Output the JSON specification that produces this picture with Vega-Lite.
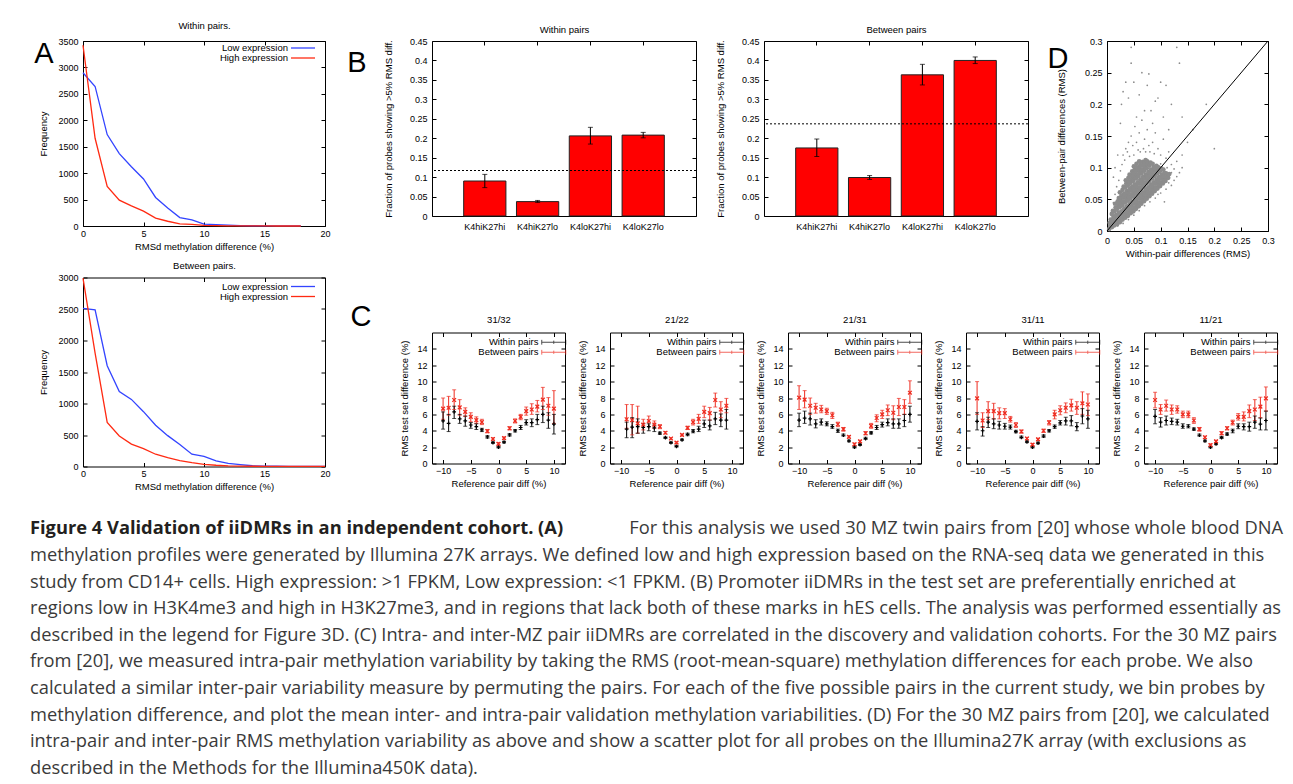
{
  "$schema": "https://vega.github.io/schema/vega-lite/v6.json",
  "padding": {"left": 30, "top": 19, "right": 5, "bottom": 0},
  "datasets": {
    "freq": [
      {"panel": "Within pairs.", "expression": "Low expression", "rmsd": 0, "count": 2900},
      {"panel": "Within pairs.", "expression": "Low expression", "rmsd": 1, "count": 2640},
      {"panel": "Within pairs.", "expression": "Low expression", "rmsd": 2, "count": 1730},
      {"panel": "Within pairs.", "expression": "Low expression", "rmsd": 3, "count": 1370},
      {"panel": "Within pairs.", "expression": "Low expression", "rmsd": 4, "count": 1120},
      {"panel": "Within pairs.", "expression": "Low expression", "rmsd": 5, "count": 890},
      {"panel": "Within pairs.", "expression": "Low expression", "rmsd": 6, "count": 540},
      {"panel": "Within pairs.", "expression": "Low expression", "rmsd": 7, "count": 340},
      {"panel": "Within pairs.", "expression": "Low expression", "rmsd": 8, "count": 160},
      {"panel": "Within pairs.", "expression": "Low expression", "rmsd": 9, "count": 115},
      {"panel": "Within pairs.", "expression": "Low expression", "rmsd": 10, "count": 35},
      {"panel": "Within pairs.", "expression": "Low expression", "rmsd": 11, "count": 25},
      {"panel": "Within pairs.", "expression": "Low expression", "rmsd": 12, "count": 15},
      {"panel": "Within pairs.", "expression": "Low expression", "rmsd": 13, "count": 8},
      {"panel": "Within pairs.", "expression": "Low expression", "rmsd": 14, "count": 5},
      {"panel": "Within pairs.", "expression": "Low expression", "rmsd": 15, "count": 3},
      {"panel": "Within pairs.", "expression": "Low expression", "rmsd": 16, "count": 2},
      {"panel": "Within pairs.", "expression": "Low expression", "rmsd": 17, "count": 1},
      {"panel": "Within pairs.", "expression": "Low expression", "rmsd": 18, "count": 1},
      {"panel": "Within pairs.", "expression": "High expression", "rmsd": 0, "count": 3420},
      {"panel": "Within pairs.", "expression": "High expression", "rmsd": 1, "count": 1660},
      {"panel": "Within pairs.", "expression": "High expression", "rmsd": 2, "count": 750},
      {"panel": "Within pairs.", "expression": "High expression", "rmsd": 3, "count": 490},
      {"panel": "Within pairs.", "expression": "High expression", "rmsd": 4, "count": 380},
      {"panel": "Within pairs.", "expression": "High expression", "rmsd": 5, "count": 280},
      {"panel": "Within pairs.", "expression": "High expression", "rmsd": 6, "count": 150},
      {"panel": "Within pairs.", "expression": "High expression", "rmsd": 7, "count": 90},
      {"panel": "Within pairs.", "expression": "High expression", "rmsd": 8, "count": 40},
      {"panel": "Within pairs.", "expression": "High expression", "rmsd": 9, "count": 30},
      {"panel": "Within pairs.", "expression": "High expression", "rmsd": 10, "count": 12},
      {"panel": "Within pairs.", "expression": "High expression", "rmsd": 11, "count": 6},
      {"panel": "Within pairs.", "expression": "High expression", "rmsd": 12, "count": 4},
      {"panel": "Within pairs.", "expression": "High expression", "rmsd": 13, "count": 2},
      {"panel": "Within pairs.", "expression": "High expression", "rmsd": 14, "count": 1},
      {"panel": "Within pairs.", "expression": "High expression", "rmsd": 15, "count": 1},
      {"panel": "Within pairs.", "expression": "High expression", "rmsd": 16, "count": 0},
      {"panel": "Within pairs.", "expression": "High expression", "rmsd": 17, "count": 0},
      {"panel": "Within pairs.", "expression": "High expression", "rmsd": 18, "count": 0},
      {"panel": "Between pairs.", "expression": "Low expression", "rmsd": 0, "count": 2510},
      {"panel": "Between pairs.", "expression": "Low expression", "rmsd": 1, "count": 2485},
      {"panel": "Between pairs.", "expression": "Low expression", "rmsd": 2, "count": 1600},
      {"panel": "Between pairs.", "expression": "Low expression", "rmsd": 3, "count": 1190},
      {"panel": "Between pairs.", "expression": "Low expression", "rmsd": 4, "count": 1065},
      {"panel": "Between pairs.", "expression": "Low expression", "rmsd": 5, "count": 870},
      {"panel": "Between pairs.", "expression": "Low expression", "rmsd": 6, "count": 655},
      {"panel": "Between pairs.", "expression": "Low expression", "rmsd": 7, "count": 490},
      {"panel": "Between pairs.", "expression": "Low expression", "rmsd": 8, "count": 350},
      {"panel": "Between pairs.", "expression": "Low expression", "rmsd": 9, "count": 195},
      {"panel": "Between pairs.", "expression": "Low expression", "rmsd": 10, "count": 160},
      {"panel": "Between pairs.", "expression": "Low expression", "rmsd": 11, "count": 90},
      {"panel": "Between pairs.", "expression": "Low expression", "rmsd": 12, "count": 50},
      {"panel": "Between pairs.", "expression": "Low expression", "rmsd": 13, "count": 30},
      {"panel": "Between pairs.", "expression": "Low expression", "rmsd": 14, "count": 12},
      {"panel": "Between pairs.", "expression": "Low expression", "rmsd": 15, "count": 6},
      {"panel": "Between pairs.", "expression": "Low expression", "rmsd": 16, "count": 4},
      {"panel": "Between pairs.", "expression": "Low expression", "rmsd": 17, "count": 3},
      {"panel": "Between pairs.", "expression": "Low expression", "rmsd": 18, "count": 2},
      {"panel": "Between pairs.", "expression": "Low expression", "rmsd": 19, "count": 1},
      {"panel": "Between pairs.", "expression": "Low expression", "rmsd": 20, "count": 1},
      {"panel": "Between pairs.", "expression": "High expression", "rmsd": 0, "count": 2990},
      {"panel": "Between pairs.", "expression": "High expression", "rmsd": 1, "count": 1800},
      {"panel": "Between pairs.", "expression": "High expression", "rmsd": 2, "count": 700},
      {"panel": "Between pairs.", "expression": "High expression", "rmsd": 3, "count": 485},
      {"panel": "Between pairs.", "expression": "High expression", "rmsd": 4, "count": 355},
      {"panel": "Between pairs.", "expression": "High expression", "rmsd": 5, "count": 285},
      {"panel": "Between pairs.", "expression": "High expression", "rmsd": 6, "count": 195},
      {"panel": "Between pairs.", "expression": "High expression", "rmsd": 7, "count": 140},
      {"panel": "Between pairs.", "expression": "High expression", "rmsd": 8, "count": 95},
      {"panel": "Between pairs.", "expression": "High expression", "rmsd": 9, "count": 60},
      {"panel": "Between pairs.", "expression": "High expression", "rmsd": 10, "count": 35},
      {"panel": "Between pairs.", "expression": "High expression", "rmsd": 11, "count": 20},
      {"panel": "Between pairs.", "expression": "High expression", "rmsd": 12, "count": 10},
      {"panel": "Between pairs.", "expression": "High expression", "rmsd": 13, "count": 6},
      {"panel": "Between pairs.", "expression": "High expression", "rmsd": 14, "count": 4},
      {"panel": "Between pairs.", "expression": "High expression", "rmsd": 15, "count": 3},
      {"panel": "Between pairs.", "expression": "High expression", "rmsd": 16, "count": 2},
      {"panel": "Between pairs.", "expression": "High expression", "rmsd": 17, "count": 1},
      {"panel": "Between pairs.", "expression": "High expression", "rmsd": 18, "count": 1},
      {"panel": "Between pairs.", "expression": "High expression", "rmsd": 19, "count": 1},
      {"panel": "Between pairs.", "expression": "High expression", "rmsd": 20, "count": 1}
    ],
    "bars": [
      {"panel": "Within pairs", "group": "K4hiK27hi", "frac": 0.090, "lo": 0.073, "hi": 0.107},
      {"panel": "Within pairs", "group": "K4hiK27lo", "frac": 0.037, "lo": 0.035, "hi": 0.040},
      {"panel": "Within pairs", "group": "K4loK27hi", "frac": 0.206, "lo": 0.185, "hi": 0.228},
      {"panel": "Within pairs", "group": "K4loK27lo", "frac": 0.208, "lo": 0.201, "hi": 0.215},
      {"panel": "Between pairs", "group": "K4hiK27hi", "frac": 0.175, "lo": 0.153, "hi": 0.198},
      {"panel": "Between pairs", "group": "K4hiK27lo", "frac": 0.099, "lo": 0.094, "hi": 0.104},
      {"panel": "Between pairs", "group": "K4loK27hi", "frac": 0.363, "lo": 0.337, "hi": 0.390},
      {"panel": "Between pairs", "group": "K4loK27lo", "frac": 0.400, "lo": 0.392, "hi": 0.409}
    ],
    "overall": [
      {"panel": "Within pairs", "frac": 0.117},
      {"panel": "Between pairs", "frac": 0.237}
    ],
    "rms": [
      {"pair": "31/32", "series": "Between pairs", "diff": -10, "mean": 6.7, "lo": 5.4, "hi": 8.0},
      {"pair": "31/32", "series": "Between pairs", "diff": -9, "mean": 6.8, "lo": 5.9, "hi": 8.2},
      {"pair": "31/32", "series": "Between pairs", "diff": -8, "mean": 7.75, "lo": 6.6, "hi": 9.0},
      {"pair": "31/32", "series": "Between pairs", "diff": -7, "mean": 6.85, "lo": 5.9, "hi": 7.8},
      {"pair": "31/32", "series": "Between pairs", "diff": -6, "mean": 6.3, "lo": 5.75, "hi": 6.8},
      {"pair": "31/32", "series": "Between pairs", "diff": -5, "mean": 5.7, "lo": 5.1, "hi": 6.2},
      {"pair": "31/32", "series": "Between pairs", "diff": -4, "mean": 5.3, "lo": 4.9, "hi": 5.7},
      {"pair": "31/32", "series": "Between pairs", "diff": -3, "mean": 5.05, "lo": 4.75, "hi": 5.4},
      {"pair": "31/32", "series": "Between pairs", "diff": -2, "mean": 3.95, "lo": 3.75, "hi": 4.15},
      {"pair": "31/32", "series": "Between pairs", "diff": -1, "mean": 3.0, "lo": 2.85, "hi": 3.15},
      {"pair": "31/32", "series": "Between pairs", "diff": 0, "mean": 2.4, "lo": 2.25, "hi": 2.55},
      {"pair": "31/32", "series": "Between pairs", "diff": 1, "mean": 3.1, "lo": 2.95, "hi": 3.25},
      {"pair": "31/32", "series": "Between pairs", "diff": 2, "mean": 4.3, "lo": 4.1, "hi": 4.5},
      {"pair": "31/32", "series": "Between pairs", "diff": 3, "mean": 5.2, "lo": 4.95, "hi": 5.45},
      {"pair": "31/32", "series": "Between pairs", "diff": 4, "mean": 5.7, "lo": 5.35, "hi": 6.0},
      {"pair": "31/32", "series": "Between pairs", "diff": 5, "mean": 6.4, "lo": 5.9, "hi": 6.9},
      {"pair": "31/32", "series": "Between pairs", "diff": 6, "mean": 6.6, "lo": 6.0, "hi": 7.3},
      {"pair": "31/32", "series": "Between pairs", "diff": 7, "mean": 6.95, "lo": 6.3, "hi": 7.7},
      {"pair": "31/32", "series": "Between pairs", "diff": 8, "mean": 7.8, "lo": 6.6, "hi": 9.3},
      {"pair": "31/32", "series": "Between pairs", "diff": 9, "mean": 7.05, "lo": 5.9, "hi": 8.05},
      {"pair": "31/32", "series": "Between pairs", "diff": 10, "mean": 6.7, "lo": 4.9, "hi": 8.9},
      {"pair": "31/32", "series": "Within pairs", "diff": -10, "mean": 5.2, "lo": 4.2, "hi": 6.3},
      {"pair": "31/32", "series": "Within pairs", "diff": -9, "mean": 4.9, "lo": 3.9, "hi": 6.0},
      {"pair": "31/32", "series": "Within pairs", "diff": -8, "mean": 6.3, "lo": 5.5, "hi": 7.0},
      {"pair": "31/32", "series": "Within pairs", "diff": -7, "mean": 5.45, "lo": 4.9, "hi": 6.0},
      {"pair": "31/32", "series": "Within pairs", "diff": -6, "mean": 5.2, "lo": 4.55, "hi": 5.8},
      {"pair": "31/32", "series": "Within pairs", "diff": -5, "mean": 4.7, "lo": 4.3, "hi": 5.0},
      {"pair": "31/32", "series": "Within pairs", "diff": -4, "mean": 4.5, "lo": 4.15, "hi": 4.85},
      {"pair": "31/32", "series": "Within pairs", "diff": -3, "mean": 4.1, "lo": 3.9, "hi": 4.3},
      {"pair": "31/32", "series": "Within pairs", "diff": -2, "mean": 3.25, "lo": 3.1, "hi": 3.4},
      {"pair": "31/32", "series": "Within pairs", "diff": -1, "mean": 2.55, "lo": 2.45, "hi": 2.65},
      {"pair": "31/32", "series": "Within pairs", "diff": 0, "mean": 2.0, "lo": 1.9, "hi": 2.1},
      {"pair": "31/32", "series": "Within pairs", "diff": 1, "mean": 2.6, "lo": 2.5, "hi": 2.7},
      {"pair": "31/32", "series": "Within pairs", "diff": 2, "mean": 3.5, "lo": 3.35, "hi": 3.65},
      {"pair": "31/32", "series": "Within pairs", "diff": 3, "mean": 4.0, "lo": 3.85, "hi": 4.15},
      {"pair": "31/32", "series": "Within pairs", "diff": 4, "mean": 4.4, "lo": 4.15, "hi": 4.65},
      {"pair": "31/32", "series": "Within pairs", "diff": 5, "mean": 5.0, "lo": 4.7, "hi": 5.35},
      {"pair": "31/32", "series": "Within pairs", "diff": 6, "mean": 5.0, "lo": 4.5, "hi": 5.45},
      {"pair": "31/32", "series": "Within pairs", "diff": 7, "mean": 5.35, "lo": 4.75, "hi": 6.0},
      {"pair": "31/32", "series": "Within pairs", "diff": 8, "mean": 6.0, "lo": 5.0, "hi": 7.0},
      {"pair": "31/32", "series": "Within pairs", "diff": 9, "mean": 5.3, "lo": 4.3, "hi": 6.2},
      {"pair": "31/32", "series": "Within pairs", "diff": 10, "mean": 4.8, "lo": 3.6, "hi": 6.0},
      {"pair": "21/22", "series": "Between pairs", "diff": -9, "mean": 5.4, "lo": 4.3, "hi": 7.2},
      {"pair": "21/22", "series": "Between pairs", "diff": -8, "mean": 5.3, "lo": 3.5, "hi": 7.2},
      {"pair": "21/22", "series": "Between pairs", "diff": -7, "mean": 4.9, "lo": 3.7, "hi": 7.0},
      {"pair": "21/22", "series": "Between pairs", "diff": -6, "mean": 4.75, "lo": 4.1, "hi": 5.4},
      {"pair": "21/22", "series": "Between pairs", "diff": -5, "mean": 5.2, "lo": 4.5, "hi": 5.8},
      {"pair": "21/22", "series": "Between pairs", "diff": -4, "mean": 4.75, "lo": 4.3, "hi": 5.2},
      {"pair": "21/22", "series": "Between pairs", "diff": -3, "mean": 4.5, "lo": 4.25, "hi": 4.75},
      {"pair": "21/22", "series": "Between pairs", "diff": -2, "mean": 3.75, "lo": 3.6, "hi": 3.9},
      {"pair": "21/22", "series": "Between pairs", "diff": -1, "mean": 3.05, "lo": 2.95, "hi": 3.15},
      {"pair": "21/22", "series": "Between pairs", "diff": 0, "mean": 2.55, "lo": 2.45, "hi": 2.65},
      {"pair": "21/22", "series": "Between pairs", "diff": 1, "mean": 3.5, "lo": 3.35, "hi": 3.6},
      {"pair": "21/22", "series": "Between pairs", "diff": 2, "mean": 4.35, "lo": 4.15, "hi": 4.55},
      {"pair": "21/22", "series": "Between pairs", "diff": 3, "mean": 5.05, "lo": 4.7, "hi": 5.4},
      {"pair": "21/22", "series": "Between pairs", "diff": 4, "mean": 5.45, "lo": 4.9, "hi": 6.0},
      {"pair": "21/22", "series": "Between pairs", "diff": 5, "mean": 6.3, "lo": 5.6, "hi": 7.0},
      {"pair": "21/22", "series": "Between pairs", "diff": 6, "mean": 6.15, "lo": 5.3, "hi": 6.85},
      {"pair": "21/22", "series": "Between pairs", "diff": 7, "mean": 7.75, "lo": 6.9, "hi": 8.6},
      {"pair": "21/22", "series": "Between pairs", "diff": 8, "mean": 6.6, "lo": 5.6, "hi": 7.55},
      {"pair": "21/22", "series": "Between pairs", "diff": 9, "mean": 7.05, "lo": 6.2, "hi": 7.95},
      {"pair": "21/22", "series": "Within pairs", "diff": -9, "mean": 4.2, "lo": 3.15, "hi": 5.05},
      {"pair": "21/22", "series": "Within pairs", "diff": -8, "mean": 4.45, "lo": 3.15, "hi": 5.6},
      {"pair": "21/22", "series": "Within pairs", "diff": -7, "mean": 4.5, "lo": 3.7, "hi": 5.45},
      {"pair": "21/22", "series": "Within pairs", "diff": -6, "mean": 4.4, "lo": 3.7, "hi": 4.85},
      {"pair": "21/22", "series": "Within pairs", "diff": -5, "mean": 4.5, "lo": 4.0, "hi": 4.85},
      {"pair": "21/22", "series": "Within pairs", "diff": -4, "mean": 4.35, "lo": 3.9, "hi": 4.7},
      {"pair": "21/22", "series": "Within pairs", "diff": -3, "mean": 3.7, "lo": 3.55, "hi": 3.85},
      {"pair": "21/22", "series": "Within pairs", "diff": -2, "mean": 3.15, "lo": 3.05, "hi": 3.25},
      {"pair": "21/22", "series": "Within pairs", "diff": -1, "mean": 2.55, "lo": 2.45, "hi": 2.65},
      {"pair": "21/22", "series": "Within pairs", "diff": 0, "mean": 2.1, "lo": 2.0, "hi": 2.2},
      {"pair": "21/22", "series": "Within pairs", "diff": 1, "mean": 2.9, "lo": 2.8, "hi": 3.0},
      {"pair": "21/22", "series": "Within pairs", "diff": 2, "mean": 3.55, "lo": 3.4, "hi": 3.7},
      {"pair": "21/22", "series": "Within pairs", "diff": 3, "mean": 3.95, "lo": 3.75, "hi": 4.15},
      {"pair": "21/22", "series": "Within pairs", "diff": 4, "mean": 4.2, "lo": 3.9, "hi": 4.55},
      {"pair": "21/22", "series": "Within pairs", "diff": 5, "mean": 4.85, "lo": 4.4, "hi": 5.3},
      {"pair": "21/22", "series": "Within pairs", "diff": 6, "mean": 4.6, "lo": 4.1, "hi": 5.3},
      {"pair": "21/22", "series": "Within pairs", "diff": 7, "mean": 5.45, "lo": 4.75, "hi": 6.25},
      {"pair": "21/22", "series": "Within pairs", "diff": 8, "mean": 5.3, "lo": 4.5, "hi": 6.05},
      {"pair": "21/22", "series": "Within pairs", "diff": 9, "mean": 5.3, "lo": 4.2, "hi": 6.6},
      {"pair": "21/31", "series": "Between pairs", "diff": -10, "mean": 8.05, "lo": 6.6, "hi": 9.5},
      {"pair": "21/31", "series": "Between pairs", "diff": -9, "mean": 7.8, "lo": 6.8, "hi": 8.9},
      {"pair": "21/31", "series": "Between pairs", "diff": -8, "mean": 7.05, "lo": 6.0, "hi": 8.0},
      {"pair": "21/31", "series": "Between pairs", "diff": -7, "mean": 6.8, "lo": 6.15, "hi": 7.35},
      {"pair": "21/31", "series": "Between pairs", "diff": -6, "mean": 6.6, "lo": 6.2, "hi": 7.1},
      {"pair": "21/31", "series": "Between pairs", "diff": -5, "mean": 6.4, "lo": 6.0, "hi": 6.75},
      {"pair": "21/31", "series": "Between pairs", "diff": -4, "mean": 5.9, "lo": 5.5, "hi": 6.25},
      {"pair": "21/31", "series": "Between pairs", "diff": -3, "mean": 4.8, "lo": 4.5, "hi": 5.05},
      {"pair": "21/31", "series": "Between pairs", "diff": -2, "mean": 4.2, "lo": 3.95, "hi": 4.4},
      {"pair": "21/31", "series": "Between pairs", "diff": -1, "mean": 3.25, "lo": 3.1, "hi": 3.4},
      {"pair": "21/31", "series": "Between pairs", "diff": 0, "mean": 2.35, "lo": 2.2, "hi": 2.5},
      {"pair": "21/31", "series": "Between pairs", "diff": 1, "mean": 2.7, "lo": 2.55, "hi": 2.85},
      {"pair": "21/31", "series": "Between pairs", "diff": 2, "mean": 3.7, "lo": 3.5, "hi": 3.9},
      {"pair": "21/31", "series": "Between pairs", "diff": 3, "mean": 4.6, "lo": 4.3, "hi": 4.9},
      {"pair": "21/31", "series": "Between pairs", "diff": 4, "mean": 5.55, "lo": 5.1, "hi": 5.95},
      {"pair": "21/31", "series": "Between pairs", "diff": 5, "mean": 6.0, "lo": 5.5, "hi": 6.5},
      {"pair": "21/31", "series": "Between pairs", "diff": 6, "mean": 6.5, "lo": 5.85, "hi": 7.15},
      {"pair": "21/31", "series": "Between pairs", "diff": 7, "mean": 6.2, "lo": 5.35, "hi": 7.05},
      {"pair": "21/31", "series": "Between pairs", "diff": 8, "mean": 6.9, "lo": 5.85, "hi": 7.95},
      {"pair": "21/31", "series": "Between pairs", "diff": 9, "mean": 6.9, "lo": 6.0, "hi": 7.8},
      {"pair": "21/31", "series": "Between pairs", "diff": 10, "mean": 8.65, "lo": 7.35, "hi": 10.1},
      {"pair": "21/31", "series": "Within pairs", "diff": -10, "mean": 5.3, "lo": 4.5, "hi": 6.15},
      {"pair": "21/31", "series": "Within pairs", "diff": -9, "mean": 5.55, "lo": 4.9, "hi": 6.4},
      {"pair": "21/31", "series": "Within pairs", "diff": -8, "mean": 5.45, "lo": 4.7, "hi": 6.15},
      {"pair": "21/31", "series": "Within pairs", "diff": -7, "mean": 4.85, "lo": 4.35, "hi": 5.35},
      {"pair": "21/31", "series": "Within pairs", "diff": -6, "mean": 5.05, "lo": 4.7, "hi": 5.45},
      {"pair": "21/31", "series": "Within pairs", "diff": -5, "mean": 4.85, "lo": 4.6, "hi": 5.1},
      {"pair": "21/31", "series": "Within pairs", "diff": -4, "mean": 4.5, "lo": 4.3, "hi": 4.75},
      {"pair": "21/31", "series": "Within pairs", "diff": -3, "mean": 4.0, "lo": 3.8, "hi": 4.2},
      {"pair": "21/31", "series": "Within pairs", "diff": -2, "mean": 3.45, "lo": 3.35, "hi": 3.6},
      {"pair": "21/31", "series": "Within pairs", "diff": -1, "mean": 2.75, "lo": 2.65, "hi": 2.85},
      {"pair": "21/31", "series": "Within pairs", "diff": 0, "mean": 2.0, "lo": 1.9, "hi": 2.1},
      {"pair": "21/31", "series": "Within pairs", "diff": 1, "mean": 2.3, "lo": 2.2, "hi": 2.4},
      {"pair": "21/31", "series": "Within pairs", "diff": 2, "mean": 3.05, "lo": 2.95, "hi": 3.2},
      {"pair": "21/31", "series": "Within pairs", "diff": 3, "mean": 3.75, "lo": 3.6, "hi": 3.9},
      {"pair": "21/31", "series": "Within pairs", "diff": 4, "mean": 4.4, "lo": 4.15, "hi": 4.65},
      {"pair": "21/31", "series": "Within pairs", "diff": 5, "mean": 4.75, "lo": 4.45, "hi": 5.05},
      {"pair": "21/31", "series": "Within pairs", "diff": 6, "mean": 5.0, "lo": 4.6, "hi": 5.45},
      {"pair": "21/31", "series": "Within pairs", "diff": 7, "mean": 4.85, "lo": 4.3, "hi": 5.45},
      {"pair": "21/31", "series": "Within pairs", "diff": 8, "mean": 4.85, "lo": 4.3, "hi": 5.45},
      {"pair": "21/31", "series": "Within pairs", "diff": 9, "mean": 5.25, "lo": 4.5, "hi": 6.0},
      {"pair": "21/31", "series": "Within pairs", "diff": 10, "mean": 6.0, "lo": 5.05, "hi": 7.0},
      {"pair": "31/11", "series": "Between pairs", "diff": -10, "mean": 7.95, "lo": 6.0, "hi": 10.0},
      {"pair": "31/11", "series": "Between pairs", "diff": -9, "mean": 5.25, "lo": 4.4, "hi": 6.2},
      {"pair": "31/11", "series": "Between pairs", "diff": -8, "mean": 6.4, "lo": 5.35, "hi": 7.55},
      {"pair": "31/11", "series": "Between pairs", "diff": -7, "mean": 6.4, "lo": 5.45, "hi": 7.35},
      {"pair": "31/11", "series": "Between pairs", "diff": -6, "mean": 6.15, "lo": 5.45, "hi": 6.8},
      {"pair": "31/11", "series": "Between pairs", "diff": -5, "mean": 6.15, "lo": 5.5, "hi": 6.7},
      {"pair": "31/11", "series": "Between pairs", "diff": -4, "mean": 5.4, "lo": 5.05, "hi": 5.75},
      {"pair": "31/11", "series": "Between pairs", "diff": -3, "mean": 4.7, "lo": 4.4, "hi": 5.0},
      {"pair": "31/11", "series": "Between pairs", "diff": -2, "mean": 3.9, "lo": 3.7, "hi": 4.1},
      {"pair": "31/11", "series": "Between pairs", "diff": -1, "mean": 3.05, "lo": 2.9, "hi": 3.2},
      {"pair": "31/11", "series": "Between pairs", "diff": 0, "mean": 2.3, "lo": 2.15, "hi": 2.45},
      {"pair": "31/11", "series": "Between pairs", "diff": 1, "mean": 2.95, "lo": 2.8, "hi": 3.1},
      {"pair": "31/11", "series": "Between pairs", "diff": 2, "mean": 4.0, "lo": 3.8, "hi": 4.2},
      {"pair": "31/11", "series": "Between pairs", "diff": 3, "mean": 5.0, "lo": 4.7, "hi": 5.25},
      {"pair": "31/11", "series": "Between pairs", "diff": 4, "mean": 6.0, "lo": 5.45, "hi": 6.5},
      {"pair": "31/11", "series": "Between pairs", "diff": 5, "mean": 6.5, "lo": 5.95, "hi": 7.05},
      {"pair": "31/11", "series": "Between pairs", "diff": 6, "mean": 6.8, "lo": 6.2, "hi": 7.4},
      {"pair": "31/11", "series": "Between pairs", "diff": 7, "mean": 7.1, "lo": 6.4, "hi": 7.85},
      {"pair": "31/11", "series": "Between pairs", "diff": 8, "mean": 6.8, "lo": 6.0, "hi": 7.55},
      {"pair": "31/11", "series": "Between pairs", "diff": 9, "mean": 7.35, "lo": 6.0, "hi": 8.75},
      {"pair": "31/11", "series": "Between pairs", "diff": 10, "mean": 7.2, "lo": 5.85, "hi": 8.5},
      {"pair": "31/11", "series": "Within pairs", "diff": -10, "mean": 5.15, "lo": 4.1, "hi": 6.2},
      {"pair": "31/11", "series": "Within pairs", "diff": -9, "mean": 4.0, "lo": 3.35, "hi": 4.5},
      {"pair": "31/11", "series": "Within pairs", "diff": -8, "mean": 5.05, "lo": 4.4, "hi": 5.65},
      {"pair": "31/11", "series": "Within pairs", "diff": -7, "mean": 4.85, "lo": 4.25, "hi": 5.45},
      {"pair": "31/11", "series": "Within pairs", "diff": -6, "mean": 4.7, "lo": 4.2, "hi": 5.15},
      {"pair": "31/11", "series": "Within pairs", "diff": -5, "mean": 4.55, "lo": 4.2, "hi": 4.9},
      {"pair": "31/11", "series": "Within pairs", "diff": -4, "mean": 4.45, "lo": 4.2, "hi": 4.7},
      {"pair": "31/11", "series": "Within pairs", "diff": -3, "mean": 3.9, "lo": 3.75, "hi": 4.05},
      {"pair": "31/11", "series": "Within pairs", "diff": -2, "mean": 3.2, "lo": 3.1, "hi": 3.35},
      {"pair": "31/11", "series": "Within pairs", "diff": -1, "mean": 2.65, "lo": 2.55, "hi": 2.75},
      {"pair": "31/11", "series": "Within pairs", "diff": 0, "mean": 2.0, "lo": 1.9, "hi": 2.1},
      {"pair": "31/11", "series": "Within pairs", "diff": 1, "mean": 2.5, "lo": 2.4, "hi": 2.6},
      {"pair": "31/11", "series": "Within pairs", "diff": 2, "mean": 3.35, "lo": 3.2, "hi": 3.5},
      {"pair": "31/11", "series": "Within pairs", "diff": 3, "mean": 4.0, "lo": 3.85, "hi": 4.15},
      {"pair": "31/11", "series": "Within pairs", "diff": 4, "mean": 4.5, "lo": 4.3, "hi": 4.7},
      {"pair": "31/11", "series": "Within pairs", "diff": 5, "mean": 4.95, "lo": 4.7, "hi": 5.25},
      {"pair": "31/11", "series": "Within pairs", "diff": 6, "mean": 5.2, "lo": 4.7, "hi": 5.65},
      {"pair": "31/11", "series": "Within pairs", "diff": 7, "mean": 5.2, "lo": 4.6, "hi": 5.85},
      {"pair": "31/11", "series": "Within pairs", "diff": 8, "mean": 4.5, "lo": 4.0, "hi": 5.0},
      {"pair": "31/11", "series": "Within pairs", "diff": 9, "mean": 5.8, "lo": 4.85, "hi": 6.7},
      {"pair": "31/11", "series": "Within pairs", "diff": 10, "mean": 5.45, "lo": 4.3, "hi": 6.5},
      {"pair": "11/21", "series": "Between pairs", "diff": -10, "mean": 7.75, "lo": 6.8, "hi": 8.7},
      {"pair": "11/21", "series": "Between pairs", "diff": -9, "mean": 6.6, "lo": 6.0, "hi": 7.2},
      {"pair": "11/21", "series": "Between pairs", "diff": -8, "mean": 7.05, "lo": 6.4, "hi": 7.75},
      {"pair": "11/21", "series": "Between pairs", "diff": -7, "mean": 6.6, "lo": 6.0, "hi": 7.15},
      {"pair": "11/21", "series": "Between pairs", "diff": -6, "mean": 6.6, "lo": 6.15, "hi": 7.05},
      {"pair": "11/21", "series": "Between pairs", "diff": -5, "mean": 6.0, "lo": 5.6, "hi": 6.4},
      {"pair": "11/21", "series": "Between pairs", "diff": -4, "mean": 6.0, "lo": 5.6, "hi": 6.4},
      {"pair": "11/21", "series": "Between pairs", "diff": -3, "mean": 5.25, "lo": 4.9, "hi": 5.6},
      {"pair": "11/21", "series": "Between pairs", "diff": -2, "mean": 4.2, "lo": 3.95, "hi": 4.4},
      {"pair": "11/21", "series": "Between pairs", "diff": -1, "mean": 3.2, "lo": 3.05, "hi": 3.35},
      {"pair": "11/21", "series": "Between pairs", "diff": 0, "mean": 2.25, "lo": 2.1, "hi": 2.4},
      {"pair": "11/21", "series": "Between pairs", "diff": 1, "mean": 2.7, "lo": 2.55, "hi": 2.85},
      {"pair": "11/21", "series": "Between pairs", "diff": 2, "mean": 3.7, "lo": 3.5, "hi": 3.9},
      {"pair": "11/21", "series": "Between pairs", "diff": 3, "mean": 4.3, "lo": 4.1, "hi": 4.5},
      {"pair": "11/21", "series": "Between pairs", "diff": 4, "mean": 5.0, "lo": 4.7, "hi": 5.3},
      {"pair": "11/21", "series": "Between pairs", "diff": 5, "mean": 5.7, "lo": 5.3, "hi": 6.1},
      {"pair": "11/21", "series": "Between pairs", "diff": 6, "mean": 5.7, "lo": 5.2, "hi": 6.3},
      {"pair": "11/21", "series": "Between pairs", "diff": 7, "mean": 6.4, "lo": 5.6, "hi": 7.15},
      {"pair": "11/21", "series": "Between pairs", "diff": 8, "mean": 6.6, "lo": 5.25, "hi": 7.8},
      {"pair": "11/21", "series": "Between pairs", "diff": 9, "mean": 6.95, "lo": 5.6, "hi": 8.1},
      {"pair": "11/21", "series": "Between pairs", "diff": 10, "mean": 7.95, "lo": 6.4, "hi": 9.35},
      {"pair": "11/21", "series": "Within pairs", "diff": -10, "mean": 5.75, "lo": 4.85, "hi": 6.6},
      {"pair": "11/21", "series": "Within pairs", "diff": -9, "mean": 5.05, "lo": 4.45, "hi": 5.6},
      {"pair": "11/21", "series": "Within pairs", "diff": -8, "mean": 5.25, "lo": 4.7, "hi": 5.8},
      {"pair": "11/21", "series": "Within pairs", "diff": -7, "mean": 5.15, "lo": 4.75, "hi": 5.55},
      {"pair": "11/21", "series": "Within pairs", "diff": -6, "mean": 5.05, "lo": 4.7, "hi": 5.4},
      {"pair": "11/21", "series": "Within pairs", "diff": -5, "mean": 4.55, "lo": 4.3, "hi": 4.85},
      {"pair": "11/21", "series": "Within pairs", "diff": -4, "mean": 4.55, "lo": 4.35, "hi": 4.75},
      {"pair": "11/21", "series": "Within pairs", "diff": -3, "mean": 4.2, "lo": 4.05, "hi": 4.35},
      {"pair": "11/21", "series": "Within pairs", "diff": -2, "mean": 3.45, "lo": 3.35, "hi": 3.6},
      {"pair": "11/21", "series": "Within pairs", "diff": -1, "mean": 2.75, "lo": 2.65, "hi": 2.85},
      {"pair": "11/21", "series": "Within pairs", "diff": 0, "mean": 2.0, "lo": 1.9, "hi": 2.1},
      {"pair": "11/21", "series": "Within pairs", "diff": 1, "mean": 2.4, "lo": 2.3, "hi": 2.5},
      {"pair": "11/21", "series": "Within pairs", "diff": 2, "mean": 3.15, "lo": 3.05, "hi": 3.3},
      {"pair": "11/21", "series": "Within pairs", "diff": 3, "mean": 3.6, "lo": 3.45, "hi": 3.75},
      {"pair": "11/21", "series": "Within pairs", "diff": 4, "mean": 4.0, "lo": 3.75, "hi": 4.2},
      {"pair": "11/21", "series": "Within pairs", "diff": 5, "mean": 4.55, "lo": 4.25, "hi": 4.85},
      {"pair": "11/21", "series": "Within pairs", "diff": 6, "mean": 4.5, "lo": 4.1, "hi": 4.85},
      {"pair": "11/21", "series": "Within pairs", "diff": 7, "mean": 4.5, "lo": 3.95, "hi": 5.05},
      {"pair": "11/21", "series": "Within pairs", "diff": 8, "mean": 5.05, "lo": 4.3, "hi": 5.8},
      {"pair": "11/21", "series": "Within pairs", "diff": 9, "mean": 4.8, "lo": 4.1, "hi": 5.55},
      {"pair": "11/21", "series": "Within pairs", "diff": 10, "mean": 5.25, "lo": 4.1, "hi": 6.4}
    ],
    "probes": [
      {"within": 0.004, "between": 0.003}, {"within": 0.006, "between": 0.008}, {"within": 0.005, "between": 0.013}, {"within": 0.007, "between": 0.018},
      {"within": 0.009, "between": 0.006}, {"within": 0.011, "between": 0.011}, {"within": 0.010, "between": 0.016}, {"within": 0.012, "between": 0.022}, {"within": 0.009, "between": 0.027}, {"within": 0.011, "between": 0.032},
      {"within": 0.014, "between": 0.009}, {"within": 0.016, "between": 0.014}, {"within": 0.015, "between": 0.020}, {"within": 0.017, "between": 0.025}, {"within": 0.014, "between": 0.031}, {"within": 0.016, "between": 0.037}, {"within": 0.015, "between": 0.043},
      {"within": 0.019, "between": 0.011}, {"within": 0.021, "between": 0.017}, {"within": 0.020, "between": 0.023}, {"within": 0.022, "between": 0.029}, {"within": 0.019, "between": 0.035}, {"within": 0.021, "between": 0.041}, {"within": 0.020, "between": 0.047}, {"within": 0.022, "between": 0.052},
      {"within": 0.024, "between": 0.014}, {"within": 0.026, "between": 0.020}, {"within": 0.025, "between": 0.026}, {"within": 0.027, "between": 0.031}, {"within": 0.024, "between": 0.038}, {"within": 0.026, "between": 0.044}, {"within": 0.025, "between": 0.050}, {"within": 0.027, "between": 0.056}, {"within": 0.024, "between": 0.061},
      {"within": 0.029, "between": 0.018}, {"within": 0.031, "between": 0.023}, {"within": 0.030, "between": 0.029}, {"within": 0.032, "between": 0.035}, {"within": 0.029, "between": 0.041}, {"within": 0.031, "between": 0.047}, {"within": 0.030, "between": 0.053}, {"within": 0.032, "between": 0.059}, {"within": 0.029, "between": 0.065}, {"within": 0.031, "between": 0.070},
      {"within": 0.034, "between": 0.021}, {"within": 0.036, "between": 0.027}, {"within": 0.035, "between": 0.033}, {"within": 0.037, "between": 0.039}, {"within": 0.034, "between": 0.045}, {"within": 0.036, "between": 0.051}, {"within": 0.035, "between": 0.057}, {"within": 0.037, "between": 0.063}, {"within": 0.034, "between": 0.069}, {"within": 0.036, "between": 0.075}, {"within": 0.035, "between": 0.080},
      {"within": 0.039, "between": 0.024}, {"within": 0.041, "between": 0.030}, {"within": 0.040, "between": 0.036}, {"within": 0.042, "between": 0.042}, {"within": 0.039, "between": 0.048}, {"within": 0.041, "between": 0.054}, {"within": 0.040, "between": 0.060}, {"within": 0.042, "between": 0.066}, {"within": 0.039, "between": 0.072}, {"within": 0.041, "between": 0.078}, {"within": 0.040, "between": 0.084}, {"within": 0.042, "between": 0.089},
      {"within": 0.044, "between": 0.028}, {"within": 0.046, "between": 0.034}, {"within": 0.045, "between": 0.040}, {"within": 0.047, "between": 0.046}, {"within": 0.044, "between": 0.052}, {"within": 0.046, "between": 0.058}, {"within": 0.045, "between": 0.064}, {"within": 0.047, "between": 0.070}, {"within": 0.044, "between": 0.076}, {"within": 0.046, "between": 0.082}, {"within": 0.045, "between": 0.088}, {"within": 0.047, "between": 0.094},
      {"within": 0.049, "between": 0.031}, {"within": 0.051, "between": 0.037}, {"within": 0.050, "between": 0.043}, {"within": 0.052, "between": 0.049}, {"within": 0.049, "between": 0.055}, {"within": 0.051, "between": 0.061}, {"within": 0.050, "between": 0.067}, {"within": 0.052, "between": 0.073}, {"within": 0.049, "between": 0.079}, {"within": 0.051, "between": 0.085}, {"within": 0.050, "between": 0.091}, {"within": 0.052, "between": 0.097}, {"within": 0.050, "between": 0.102},
      {"within": 0.054, "between": 0.035}, {"within": 0.056, "between": 0.041}, {"within": 0.055, "between": 0.047}, {"within": 0.057, "between": 0.053}, {"within": 0.054, "between": 0.059}, {"within": 0.056, "between": 0.065}, {"within": 0.055, "between": 0.071}, {"within": 0.057, "between": 0.077}, {"within": 0.054, "between": 0.083}, {"within": 0.056, "between": 0.089}, {"within": 0.055, "between": 0.095}, {"within": 0.057, "between": 0.100}, {"within": 0.055, "between": 0.106},
      {"within": 0.059, "between": 0.039}, {"within": 0.061, "between": 0.045}, {"within": 0.060, "between": 0.051}, {"within": 0.062, "between": 0.057}, {"within": 0.059, "between": 0.063}, {"within": 0.061, "between": 0.069}, {"within": 0.060, "between": 0.075}, {"within": 0.062, "between": 0.081}, {"within": 0.059, "between": 0.087}, {"within": 0.061, "between": 0.093}, {"within": 0.060, "between": 0.099}, {"within": 0.062, "between": 0.104}, {"within": 0.060, "between": 0.110},
      {"within": 0.064, "between": 0.043}, {"within": 0.066, "between": 0.049}, {"within": 0.065, "between": 0.055}, {"within": 0.067, "between": 0.061}, {"within": 0.064, "between": 0.067}, {"within": 0.066, "between": 0.073}, {"within": 0.065, "between": 0.079}, {"within": 0.067, "between": 0.085}, {"within": 0.064, "between": 0.091}, {"within": 0.066, "between": 0.097}, {"within": 0.065, "between": 0.103}, {"within": 0.067, "between": 0.109},
      {"within": 0.069, "between": 0.047}, {"within": 0.071, "between": 0.053}, {"within": 0.070, "between": 0.059}, {"within": 0.072, "between": 0.065}, {"within": 0.069, "between": 0.071}, {"within": 0.071, "between": 0.077}, {"within": 0.070, "between": 0.083}, {"within": 0.072, "between": 0.089}, {"within": 0.069, "between": 0.095}, {"within": 0.071, "between": 0.101}, {"within": 0.070, "between": 0.107}, {"within": 0.072, "between": 0.112},
      {"within": 0.074, "between": 0.051}, {"within": 0.076, "between": 0.057}, {"within": 0.075, "between": 0.063}, {"within": 0.077, "between": 0.069}, {"within": 0.074, "between": 0.075}, {"within": 0.076, "between": 0.081}, {"within": 0.075, "between": 0.087}, {"within": 0.077, "between": 0.093}, {"within": 0.074, "between": 0.099}, {"within": 0.076, "between": 0.105}, {"within": 0.075, "between": 0.110},
      {"within": 0.079, "between": 0.055}, {"within": 0.081, "between": 0.061}, {"within": 0.080, "between": 0.067}, {"within": 0.082, "between": 0.073}, {"within": 0.079, "between": 0.079}, {"within": 0.081, "between": 0.085}, {"within": 0.080, "between": 0.091}, {"within": 0.082, "between": 0.097}, {"within": 0.079, "between": 0.103}, {"within": 0.081, "between": 0.108},
      {"within": 0.084, "between": 0.059}, {"within": 0.086, "between": 0.065}, {"within": 0.085, "between": 0.071}, {"within": 0.087, "between": 0.077}, {"within": 0.084, "between": 0.083}, {"within": 0.086, "between": 0.089}, {"within": 0.085, "between": 0.095}, {"within": 0.087, "between": 0.101}, {"within": 0.085, "between": 0.106},
      {"within": 0.089, "between": 0.063}, {"within": 0.091, "between": 0.069}, {"within": 0.090, "between": 0.075}, {"within": 0.092, "between": 0.081}, {"within": 0.089, "between": 0.087}, {"within": 0.091, "between": 0.093}, {"within": 0.090, "between": 0.099}, {"within": 0.092, "between": 0.103},
      {"within": 0.094, "between": 0.067}, {"within": 0.096, "between": 0.073}, {"within": 0.095, "between": 0.079}, {"within": 0.097, "between": 0.085}, {"within": 0.094, "between": 0.091}, {"within": 0.096, "between": 0.097}, {"within": 0.095, "between": 0.101},
      {"within": 0.099, "between": 0.071}, {"within": 0.101, "between": 0.077}, {"within": 0.100, "between": 0.083}, {"within": 0.102, "between": 0.089}, {"within": 0.099, "between": 0.095}, {"within": 0.101, "between": 0.099},
      {"within": 0.104, "between": 0.075}, {"within": 0.106, "between": 0.081}, {"within": 0.105, "between": 0.087}, {"within": 0.107, "between": 0.092}, {"within": 0.105, "between": 0.097},
      {"within": 0.109, "between": 0.079}, {"within": 0.111, "between": 0.085}, {"within": 0.110, "between": 0.091},
      {"within": 0.114, "between": 0.084}, {"within": 0.116, "between": 0.090}
    ],
    "probes_sparse": [
      {"within": 0.012, "between": 0.045}, {"within": 0.015, "between": 0.058}, {"within": 0.018, "between": 0.070}, {"within": 0.022, "between": 0.080}, {"within": 0.025, "between": 0.095}, {"within": 0.028, "between": 0.105},
      {"within": 0.030, "between": 0.120}, {"within": 0.033, "between": 0.112}, {"within": 0.035, "between": 0.130}, {"within": 0.038, "between": 0.125}, {"within": 0.040, "between": 0.140}, {"within": 0.042, "between": 0.118},
      {"within": 0.045, "between": 0.150}, {"within": 0.048, "between": 0.135}, {"within": 0.050, "between": 0.120}, {"within": 0.052, "between": 0.165}, {"within": 0.055, "between": 0.140}, {"within": 0.058, "between": 0.128},
      {"within": 0.060, "between": 0.155}, {"within": 0.062, "between": 0.125}, {"within": 0.065, "between": 0.175}, {"within": 0.068, "between": 0.130}, {"within": 0.070, "between": 0.145}, {"within": 0.072, "between": 0.125},
      {"within": 0.075, "between": 0.160}, {"within": 0.078, "between": 0.135}, {"within": 0.080, "between": 0.125}, {"within": 0.082, "between": 0.190}, {"within": 0.085, "between": 0.140}, {"within": 0.088, "between": 0.122},
      {"within": 0.090, "between": 0.155}, {"within": 0.095, "between": 0.130}, {"within": 0.100, "between": 0.120}, {"within": 0.105, "between": 0.145}, {"within": 0.110, "between": 0.115}, {"within": 0.115, "between": 0.125},
      {"within": 0.120, "between": 0.105}, {"within": 0.125, "between": 0.098}, {"within": 0.130, "between": 0.110}, {"within": 0.140, "between": 0.120},
      {"within": 0.025, "between": 0.170}, {"within": 0.027, "between": 0.200}, {"within": 0.030, "between": 0.220}, {"within": 0.035, "between": 0.235}, {"within": 0.040, "between": 0.210}, {"within": 0.045, "between": 0.290},
      {"within": 0.050, "between": 0.235}, {"within": 0.055, "between": 0.180}, {"within": 0.060, "between": 0.215}, {"within": 0.065, "between": 0.250}, {"within": 0.070, "between": 0.190}, {"within": 0.075, "between": 0.230},
      {"within": 0.078, "between": 0.248}, {"within": 0.085, "between": 0.170}, {"within": 0.090, "between": 0.205}, {"within": 0.095, "between": 0.210}, {"within": 0.100, "between": 0.235}, {"within": 0.105, "between": 0.180},
      {"within": 0.110, "between": 0.230}, {"within": 0.115, "between": 0.160}, {"within": 0.120, "between": 0.200}, {"within": 0.130, "between": 0.290}, {"within": 0.135, "between": 0.265}, {"within": 0.140, "between": 0.180},
      {"within": 0.150, "between": 0.140}, {"within": 0.160, "between": 0.160}, {"within": 0.185, "between": 0.200}, {"within": 0.200, "between": 0.130}, {"within": 0.045, "between": 0.265}, {"within": 0.020, "between": 0.120},
      {"within": 0.015, "between": 0.100}, {"within": 0.012, "between": 0.085},
      {"within": 0.020, "between": 0.008}, {"within": 0.030, "between": 0.012}, {"within": 0.040, "between": 0.018}, {"within": 0.050, "between": 0.025}, {"within": 0.060, "between": 0.032}, {"within": 0.070, "between": 0.040},
      {"within": 0.080, "between": 0.046}, {"within": 0.090, "between": 0.052}, {"within": 0.100, "between": 0.060}, {"within": 0.107, "between": 0.046}, {"within": 0.110, "between": 0.066}, {"within": 0.120, "between": 0.072},
      {"within": 0.125, "between": 0.080}, {"within": 0.130, "between": 0.086}, {"within": 0.135, "between": 0.092}, {"within": 0.115, "between": 0.076}, {"within": 0.095, "between": 0.058}, {"within": 0.140, "between": 0.100},
      {"within": 0.120, "between": 0.092}, {"within": 0.112, "between": 0.100}, {"within": 0.100, "between": 0.106}
    ],
    "diagonal": [
      {"within": 0, "between": 0},
      {"within": 0.3, "between": 0.3}
    ],
    "caption": [
      {"line": 1, "part": "head", "text": "Figure 4 Validation of iiDMRs in an independent cohort. (A)"},
      {"line": 1, "part": "tail", "text": "For this analysis we used 30 MZ twin pairs from [20] whose whole blood DNA"},
      {"line": 2, "part": "body", "text": "methylation profiles were generated by Illumina 27K arrays. We defined low and high expression based on the RNA-seq data we generated in this"},
      {"line": 3, "part": "body", "text": "study from CD14+ cells. High expression: >1 FPKM, Low expression: <1 FPKM. (B) Promoter iiDMRs in the test set are preferentially enriched at"},
      {"line": 4, "part": "body", "text": "regions low in H3K4me3 and high in H3K27me3, and in regions that lack both of these marks in hES cells. The analysis was performed essentially as"},
      {"line": 5, "part": "body", "text": "described in the legend for Figure 3D. (C) Intra- and inter-MZ pair iiDMRs are correlated in the discovery and validation cohorts. For the 30 MZ pairs"},
      {"line": 6, "part": "body", "text": "from [20], we measured intra-pair methylation variability by taking the RMS (root-mean-square) methylation differences for each probe. We also"},
      {"line": 7, "part": "body", "text": "calculated a similar inter-pair variability measure by permuting the pairs. For each of the five possible pairs in the current study, we bin probes by"},
      {"line": 8, "part": "body", "text": "methylation difference, and plot the mean inter- and intra-pair validation methylation variabilities. (D) For the 30 MZ pairs from [20], we calculated"},
      {"line": 9, "part": "body", "text": "intra-pair and inter-pair RMS methylation variability as above and show a scatter plot for all probes on the Illumina27K array (with exclusions as"},
      {"line": 10, "part": "body", "text": "described in the Methods for the Illumina450K data)."}
    ]
  },
  "concat": [
    {
      "concat": [
        {
          "vconcat": [
            {
              "width": 242, "height": 185,
              "data": {"name": "freq"},
              "transform": [{"filter": "datum.panel === 'Within pairs.'"}],
              "encoding": {
                "color": {"field": "expression", "type": "nominal", "scale": {"domain": ["Low expression", "High expression"], "range": ["#3344ff", "#ff2a12"]},
                  "legend": {"title": null, "orient": "none", "legendX": 125, "legendY": 2, "symbolType": "M-3,0H3", "symbolSize": 64, "symbolStrokeWidth": 1.3, "labelAlign": "right", "labelOffset": -20, "symbolOffset": 90, "labelFontSize": 9.5, "rowPadding": -7, "padding": 0}}
              },
              "layer": [
                {
                  "mark": {"type": "line", "strokeWidth": 1.3},
                  "encoding": {
                    "x": {"field": "rmsd", "type": "quantitative", "scale": {"domain": [0, 20]}, "axis": {"title": "RMSd methylation difference (%)", "values": [0, 5, 10, 15, 20]}},
                    "y": {"field": "count", "type": "quantitative", "scale": {"domain": [0, 3500]}, "axis": {"title": "Frequency", "values": [0, 500, 1000, 1500, 2000, 2500, 3000, 3500], "format": "d", "titlePadding": 9}}
                  }
                },
                {
                  "mark": {"type": "line", "opacity": 0},
                  "encoding": {
                    "x": {"field": "rmsd", "type": "quantitative", "axis": {"orient": "top", "title": "Within pairs.", "labels": false, "values": [0, 5, 10, 15, 20], "titlePadding": 10.5}},
                    "y": {"field": "count", "type": "quantitative", "axis": {"orient": "right", "labels": false, "values": [0, 500, 1000, 1500, 2000, 2500, 3000, 3500], "title": "A", "titleX": -272, "titleY": -2, "titleAngle": 0, "titleAlign": "right", "titleBaseline": "top", "titleFontSize": 29}}
                  }
                }
              ],
              "resolve": {"axis": {"x": "independent", "y": "independent"}}
            },
            {
              "width": 242, "height": 189,
              "data": {"name": "freq"},
              "transform": [{"filter": "datum.panel === 'Between pairs.'"}],
              "encoding": {
                "color": {"field": "expression", "type": "nominal", "scale": {"domain": ["Low expression", "High expression"], "range": ["#3344ff", "#ff2a12"]},
                  "legend": {"title": null, "orient": "none", "legendX": 125, "legendY": 4, "symbolType": "M-3,0H3", "symbolSize": 64, "symbolStrokeWidth": 1.3, "labelAlign": "right", "labelOffset": -20, "symbolOffset": 90, "labelFontSize": 9.5, "rowPadding": -7, "padding": 0}}
              },
              "layer": [
                {
                  "mark": {"type": "line", "strokeWidth": 1.3},
                  "encoding": {
                    "x": {"field": "rmsd", "type": "quantitative", "scale": {"domain": [0, 20]}, "axis": {"title": "RMSd methylation difference (%)", "values": [0, 5, 10, 15, 20]}},
                    "y": {"field": "count", "type": "quantitative", "scale": {"domain": [0, 3000]}, "axis": {"title": "Frequency", "values": [0, 500, 1000, 1500, 2000, 2500, 3000], "format": "d", "titlePadding": 9}}
                  }
                },
                {
                  "mark": {"type": "line", "opacity": 0},
                  "encoding": {
                    "x": {"field": "rmsd", "type": "quantitative", "axis": {"orient": "top", "title": "Between pairs.", "labels": false, "values": [0, 5, 10, 15, 20], "titlePadding": 6.5}},
                    "y": {"field": "count", "type": "quantitative", "axis": {"orient": "right", "title": null, "labels": false, "values": [0, 500, 1000, 1500, 2000, 2500, 3000]}}
                  }
                }
              ],
              "resolve": {"axis": {"x": "independent", "y": "independent"}}
            }
          ],
          "spacing": 8.5,
          "resolve": {"scale": {"color": "independent"}, "legend": {"color": "independent"}}
        },
        {
          "concat": [
            {
              "concat": [
                {
                  "width": 264, "height": 175,
                  "layer": [
                    {
                      "data": {"name": "bars"},
                      "transform": [{"filter": "datum.panel === 'Within pairs'"}],
                      "mark": {"type": "bar", "fill": "#ff0000", "stroke": "#222", "strokeWidth": 1},
                      "encoding": {
                        "x": {"field": "group", "type": "nominal", "scale": {"domain": ["K4hiK27hi", "K4hiK27lo", "K4loK27hi", "K4loK27lo"], "paddingInner": 0.2, "paddingOuter": 0.6}, "axis": {"title": null, "labelAngle": 0, "labelPadding": 10}},
                        "y": {"field": "frac", "type": "quantitative", "scale": {"domain": [0, 0.45]}, "axis": {"title": "Fraction of probes showing >5% RMS diff.", "values": [0, 0.05, 0.1, 0.15, 0.2, 0.25, 0.3, 0.35, 0.4, 0.45], "format": ".2~f", "titlePadding": 16}}
                      }
                    },
                    {
                      "data": {"name": "bars"},
                      "transform": [{"filter": "datum.panel === 'Within pairs'"}],
                      "mark": {"type": "rule", "color": "#000", "strokeWidth": 1},
                      "encoding": {
                        "x": {"field": "group", "type": "nominal", "axis": {"orient": "top", "title": "Within pairs", "labels": false, "titlePadding": 6}},
                        "y": {"field": "lo", "type": "quantitative", "axis": {"orient": "right", "labels": false, "values": [0, 0.05, 0.1, 0.15, 0.2, 0.25, 0.3, 0.35, 0.4, 0.45], "title": "B", "titleX": -330, "titleY": 7, "titleAngle": 0, "titleAlign": "right", "titleBaseline": "top", "titleFontSize": 29}},
                        "y2": {"field": "hi"}
                      }
                    },
                    {
                      "data": {"name": "bars"},
                      "transform": [{"filter": "datum.panel === 'Within pairs'"}],
                      "mark": {"type": "tick", "orient": "horizontal", "size": 5, "thickness": 1, "color": "#000"},
                      "encoding": {
                        "x": {"field": "group", "type": "nominal", "axis": null},
                        "y": {"field": "lo", "type": "quantitative", "axis": null}
                      }
                    },
                    {
                      "data": {"name": "bars"},
                      "transform": [{"filter": "datum.panel === 'Within pairs'"}],
                      "mark": {"type": "tick", "orient": "horizontal", "size": 5, "thickness": 1, "color": "#000"},
                      "encoding": {
                        "x": {"field": "group", "type": "nominal", "axis": null},
                        "y": {"field": "hi", "type": "quantitative", "axis": null}
                      }
                    },
                    {
                      "data": {"name": "overall"},
                      "transform": [{"filter": "datum.panel === 'Within pairs'"}],
                      "mark": {"type": "rule", "color": "#000", "strokeWidth": 1, "strokeDash": [2, 2]},
                      "encoding": {"y": {"field": "frac", "type": "quantitative", "axis": null}}
                    }
                  ],
                  "resolve": {"axis": {"x": "independent", "y": "independent"}}
                },
                {
                  "width": 264, "height": 175,
                  "layer": [
                    {
                      "data": {"name": "bars"},
                      "transform": [{"filter": "datum.panel === 'Between pairs'"}],
                      "mark": {"type": "bar", "fill": "#ff0000", "stroke": "#222", "strokeWidth": 1},
                      "encoding": {
                        "x": {"field": "group", "type": "nominal", "scale": {"domain": ["K4hiK27hi", "K4hiK27lo", "K4loK27hi", "K4loK27lo"], "paddingInner": 0.2, "paddingOuter": 0.6}, "axis": {"title": null, "labelAngle": 0, "labelPadding": 10}},
                        "y": {"field": "frac", "type": "quantitative", "scale": {"domain": [0, 0.45]}, "axis": {"title": "Fraction of probes showing >5% RMS diff.", "values": [0, 0.05, 0.1, 0.15, 0.2, 0.25, 0.3, 0.35, 0.4, 0.45], "format": ".2~f", "titlePadding": 16}}
                      }
                    },
                    {
                      "data": {"name": "bars"},
                      "transform": [{"filter": "datum.panel === 'Between pairs'"}],
                      "mark": {"type": "rule", "color": "#000", "strokeWidth": 1},
                      "encoding": {
                        "x": {"field": "group", "type": "nominal", "axis": {"orient": "top", "title": "Between pairs", "labels": false, "titlePadding": 6}},
                        "y": {"field": "lo", "type": "quantitative", "axis": {"orient": "right", "title": null, "labels": false, "values": [0, 0.05, 0.1, 0.15, 0.2, 0.25, 0.3, 0.35, 0.4, 0.45]}},
                        "y2": {"field": "hi"}
                      }
                    },
                    {
                      "data": {"name": "bars"},
                      "transform": [{"filter": "datum.panel === 'Between pairs'"}],
                      "mark": {"type": "tick", "orient": "horizontal", "size": 5, "thickness": 1, "color": "#000"},
                      "encoding": {
                        "x": {"field": "group", "type": "nominal", "axis": null},
                        "y": {"field": "lo", "type": "quantitative", "axis": null}
                      }
                    },
                    {
                      "data": {"name": "bars"},
                      "transform": [{"filter": "datum.panel === 'Between pairs'"}],
                      "mark": {"type": "tick", "orient": "horizontal", "size": 5, "thickness": 1, "color": "#000"},
                      "encoding": {
                        "x": {"field": "group", "type": "nominal", "axis": null},
                        "y": {"field": "hi", "type": "quantitative", "axis": null}
                      }
                    },
                    {
                      "data": {"name": "overall"},
                      "transform": [{"filter": "datum.panel === 'Between pairs'"}],
                      "mark": {"type": "rule", "color": "#000", "strokeWidth": 1, "strokeDash": [2, 2]},
                      "encoding": {"y": {"field": "frac", "type": "quantitative", "axis": null}}
                    }
                  ],
                  "resolve": {"axis": {"x": "independent", "y": "independent"}}
                },
                {
                  "width": 161, "height": 190,
                  "layer": [
                    {
                      "data": {"name": "probes"},
                      "mark": {"type": "circle", "size": 22, "color": "#8c8c8c", "opacity": 1},
                      "encoding": {
                        "x": {"field": "within", "type": "quantitative", "scale": {"domain": [0, 0.3]}, "axis": {"title": "Within-pair differences (RMS)", "values": [0, 0.05, 0.1, 0.15, 0.2, 0.25, 0.3], "format": ".2~f", "labelPadding": 9}},
                        "y": {"field": "between", "type": "quantitative", "scale": {"domain": [0, 0.3]}, "axis": {"title": "Between-pair differences (RMS)", "values": [0, 0.05, 0.1, 0.15, 0.2, 0.25, 0.3], "format": ".2~f", "titlePadding": 18}}
                      }
                    },
                    {
                      "data": {"name": "probes_sparse"},
                      "mark": {"type": "circle", "size": 3, "color": "#8c8c8c", "opacity": 1},
                      "encoding": {
                        "x": {"field": "within", "type": "quantitative", "axis": null},
                        "y": {"field": "between", "type": "quantitative", "axis": null}
                      }
                    },
                    {
                      "data": {"name": "diagonal"},
                      "mark": {"type": "line", "color": "#000", "strokeWidth": 1},
                      "encoding": {
                        "x": {"field": "within", "type": "quantitative", "axis": {"orient": "top", "title": null, "labels": false, "values": [0, 0.05, 0.1, 0.15, 0.2, 0.25, 0.3]}},
                        "y": {"field": "between", "type": "quantitative", "axis": {"orient": "right", "labels": false, "values": [0, 0.05, 0.1, 0.15, 0.2, 0.25, 0.3], "title": "D", "titleX": -200, "titleY": 3, "titleAngle": 0, "titleAlign": "right", "titleBaseline": "top", "titleFontSize": 29}}
                      }
                    }
                  ],
                  "resolve": {"axis": {"x": "independent", "y": "independent"}}
                }
              ],
              "columns": 3,
              "align": "none",
              "spacing": 17
            },
            {
              "hconcat": [
                {
                  "width": 133, "height": 131,
                  "data": {"name": "rms"},
                  "transform": [{"filter": "datum.pair === '31/32'"}],
                  "encoding": {
                    "color": {"field": "series", "type": "nominal", "scale": {"domain": ["Within pairs", "Between pairs"], "range": ["#000000", "#ee2a1e"]},
                      "legend": {"title": null, "orient": "none", "legendX": 27, "legendY": 5, "symbolType": "M-3,-0.6V0.6M-3,0H3M3,-0.6V0.6M0,-0.4V0.4", "symbolSize": 64, "symbolStrokeWidth": 1, "labelAlign": "right", "labelOffset": -20, "symbolOffset": 90, "labelFontSize": 9.5, "rowPadding": -7, "padding": 0}}
                  },
                  "layer": [
                    {
                      "mark": {"type": "rule", "strokeWidth": 1},
                      "encoding": {
                        "x": {"field": "diff", "type": "quantitative", "scale": {"domain": [-10.5, 10.5]}, "axis": {"title": "Reference pair diff (%)", "values": [-10, -5, 0, 5, 10]}},
                        "y": {"field": "lo", "type": "quantitative", "scale": {"domain": [0, 15]}, "axis": {"title": "RMS test set difference (%)", "values": [0, 2, 4, 6, 8, 10, 12, 14], "titlePadding": 7}},
                        "y2": {"field": "hi"}
                      }
                    },
                    {
                      "mark": {"type": "tick", "orient": "horizontal", "size": 4, "thickness": 1},
                      "encoding": {"x": {"field": "diff", "type": "quantitative", "axis": null}, "y": {"field": "lo", "type": "quantitative", "axis": null}}
                    },
                    {
                      "mark": {"type": "tick", "orient": "horizontal", "size": 4, "thickness": 1},
                      "encoding": {"x": {"field": "diff", "type": "quantitative", "axis": null}, "y": {"field": "hi", "type": "quantitative", "axis": null}}
                    },
                    {
                      "transform": [{"filter": "datum.series === 'Within pairs'"}],
                      "mark": {"type": "point", "shape": "M-1,0H1M0,-1V1", "filled": false, "size": 14, "strokeWidth": 1.2, "opacity": 1},
                      "encoding": {
                        "x": {"field": "diff", "type": "quantitative", "axis": {"orient": "top", "title": "31/32", "labels": false, "values": [-10, -5, 0, 5, 10], "titlePadding": 8}},
                        "y": {"field": "mean", "type": "quantitative", "axis": {"orient": "right", "labels": false, "values": [0, 2, 4, 6, 8, 10, 12, 14], "title": "C", "titleX": -194, "titleY": -30, "titleAngle": 0, "titleAlign": "right", "titleBaseline": "top", "titleFontSize": 29}}
                      }
                    },
                    {
                      "transform": [{"filter": "datum.series === 'Between pairs'"}],
                      "mark": {"type": "point", "shape": "M-1,-1L1,1M-1,1L1,-1", "filled": false, "size": 14, "strokeWidth": 1.2, "opacity": 1},
                      "encoding": {
                        "x": {"field": "diff", "type": "quantitative", "axis": null},
                        "y": {"field": "mean", "type": "quantitative", "axis": null}
                      }
                    }
                  ],
                  "resolve": {"axis": {"x": "independent", "y": "independent"}}
                },
                {
                  "width": 133, "height": 131,
                  "data": {"name": "rms"},
                  "transform": [{"filter": "datum.pair === '21/22'"}],
                  "encoding": {
                    "color": {"field": "series", "type": "nominal", "scale": {"domain": ["Within pairs", "Between pairs"], "range": ["#000000", "#ee2a1e"]},
                      "legend": {"title": null, "orient": "none", "legendX": 27, "legendY": 5, "symbolType": "M-3,-0.6V0.6M-3,0H3M3,-0.6V0.6M0,-0.4V0.4", "symbolSize": 64, "symbolStrokeWidth": 1, "labelAlign": "right", "labelOffset": -20, "symbolOffset": 90, "labelFontSize": 9.5, "rowPadding": -7, "padding": 0}}
                  },
                  "layer": [
                    {
                      "mark": {"type": "rule", "strokeWidth": 1},
                      "encoding": {
                        "x": {"field": "diff", "type": "quantitative", "scale": {"domain": [-10.5, 10.5]}, "axis": {"title": "Reference pair diff (%)", "values": [-10, -5, 0, 5, 10]}},
                        "y": {"field": "lo", "type": "quantitative", "scale": {"domain": [0, 15]}, "axis": {"title": "RMS test set difference (%)", "values": [0, 2, 4, 6, 8, 10, 12, 14], "titlePadding": 7}},
                        "y2": {"field": "hi"}
                      }
                    },
                    {
                      "mark": {"type": "tick", "orient": "horizontal", "size": 4, "thickness": 1},
                      "encoding": {"x": {"field": "diff", "type": "quantitative", "axis": null}, "y": {"field": "lo", "type": "quantitative", "axis": null}}
                    },
                    {
                      "mark": {"type": "tick", "orient": "horizontal", "size": 4, "thickness": 1},
                      "encoding": {"x": {"field": "diff", "type": "quantitative", "axis": null}, "y": {"field": "hi", "type": "quantitative", "axis": null}}
                    },
                    {
                      "transform": [{"filter": "datum.series === 'Within pairs'"}],
                      "mark": {"type": "point", "shape": "M-1,0H1M0,-1V1", "filled": false, "size": 14, "strokeWidth": 1.2, "opacity": 1},
                      "encoding": {
                        "x": {"field": "diff", "type": "quantitative", "axis": {"orient": "top", "title": "21/22", "labels": false, "values": [-10, -5, 0, 5, 10], "titlePadding": 8}},
                        "y": {"field": "mean", "type": "quantitative", "axis": {"orient": "right", "title": null, "labels": false, "values": [0, 2, 4, 6, 8, 10, 12, 14]}}
                      }
                    },
                    {
                      "transform": [{"filter": "datum.series === 'Between pairs'"}],
                      "mark": {"type": "point", "shape": "M-1,-1L1,1M-1,1L1,-1", "filled": false, "size": 14, "strokeWidth": 1.2, "opacity": 1},
                      "encoding": {
                        "x": {"field": "diff", "type": "quantitative", "axis": null},
                        "y": {"field": "mean", "type": "quantitative", "axis": null}
                      }
                    }
                  ],
                  "resolve": {"axis": {"x": "independent", "y": "independent"}}
                },
                {
                  "width": 133, "height": 131,
                  "data": {"name": "rms"},
                  "transform": [{"filter": "datum.pair === '21/31'"}],
                  "encoding": {
                    "color": {"field": "series", "type": "nominal", "scale": {"domain": ["Within pairs", "Between pairs"], "range": ["#000000", "#ee2a1e"]},
                      "legend": {"title": null, "orient": "none", "legendX": 27, "legendY": 5, "symbolType": "M-3,-0.6V0.6M-3,0H3M3,-0.6V0.6M0,-0.4V0.4", "symbolSize": 64, "symbolStrokeWidth": 1, "labelAlign": "right", "labelOffset": -20, "symbolOffset": 90, "labelFontSize": 9.5, "rowPadding": -7, "padding": 0}}
                  },
                  "layer": [
                    {
                      "mark": {"type": "rule", "strokeWidth": 1},
                      "encoding": {
                        "x": {"field": "diff", "type": "quantitative", "scale": {"domain": [-10.5, 10.5]}, "axis": {"title": "Reference pair diff (%)", "values": [-10, -5, 0, 5, 10]}},
                        "y": {"field": "lo", "type": "quantitative", "scale": {"domain": [0, 15]}, "axis": {"title": "RMS test set difference (%)", "values": [0, 2, 4, 6, 8, 10, 12, 14], "titlePadding": 7}},
                        "y2": {"field": "hi"}
                      }
                    },
                    {
                      "mark": {"type": "tick", "orient": "horizontal", "size": 4, "thickness": 1},
                      "encoding": {"x": {"field": "diff", "type": "quantitative", "axis": null}, "y": {"field": "lo", "type": "quantitative", "axis": null}}
                    },
                    {
                      "mark": {"type": "tick", "orient": "horizontal", "size": 4, "thickness": 1},
                      "encoding": {"x": {"field": "diff", "type": "quantitative", "axis": null}, "y": {"field": "hi", "type": "quantitative", "axis": null}}
                    },
                    {
                      "transform": [{"filter": "datum.series === 'Within pairs'"}],
                      "mark": {"type": "point", "shape": "M-1,0H1M0,-1V1", "filled": false, "size": 14, "strokeWidth": 1.2, "opacity": 1},
                      "encoding": {
                        "x": {"field": "diff", "type": "quantitative", "axis": {"orient": "top", "title": "21/31", "labels": false, "values": [-10, -5, 0, 5, 10], "titlePadding": 8}},
                        "y": {"field": "mean", "type": "quantitative", "axis": {"orient": "right", "title": null, "labels": false, "values": [0, 2, 4, 6, 8, 10, 12, 14]}}
                      }
                    },
                    {
                      "transform": [{"filter": "datum.series === 'Between pairs'"}],
                      "mark": {"type": "point", "shape": "M-1,-1L1,1M-1,1L1,-1", "filled": false, "size": 14, "strokeWidth": 1.2, "opacity": 1},
                      "encoding": {
                        "x": {"field": "diff", "type": "quantitative", "axis": null},
                        "y": {"field": "mean", "type": "quantitative", "axis": null}
                      }
                    }
                  ],
                  "resolve": {"axis": {"x": "independent", "y": "independent"}}
                },
                {
                  "width": 133, "height": 131,
                  "data": {"name": "rms"},
                  "transform": [{"filter": "datum.pair === '31/11'"}],
                  "encoding": {
                    "color": {"field": "series", "type": "nominal", "scale": {"domain": ["Within pairs", "Between pairs"], "range": ["#000000", "#ee2a1e"]},
                      "legend": {"title": null, "orient": "none", "legendX": 27, "legendY": 5, "symbolType": "M-3,-0.6V0.6M-3,0H3M3,-0.6V0.6M0,-0.4V0.4", "symbolSize": 64, "symbolStrokeWidth": 1, "labelAlign": "right", "labelOffset": -20, "symbolOffset": 90, "labelFontSize": 9.5, "rowPadding": -7, "padding": 0}}
                  },
                  "layer": [
                    {
                      "mark": {"type": "rule", "strokeWidth": 1},
                      "encoding": {
                        "x": {"field": "diff", "type": "quantitative", "scale": {"domain": [-10.5, 10.5]}, "axis": {"title": "Reference pair diff (%)", "values": [-10, -5, 0, 5, 10]}},
                        "y": {"field": "lo", "type": "quantitative", "scale": {"domain": [0, 15]}, "axis": {"title": "RMS test set difference (%)", "values": [0, 2, 4, 6, 8, 10, 12, 14], "titlePadding": 7}},
                        "y2": {"field": "hi"}
                      }
                    },
                    {
                      "mark": {"type": "tick", "orient": "horizontal", "size": 4, "thickness": 1},
                      "encoding": {"x": {"field": "diff", "type": "quantitative", "axis": null}, "y": {"field": "lo", "type": "quantitative", "axis": null}}
                    },
                    {
                      "mark": {"type": "tick", "orient": "horizontal", "size": 4, "thickness": 1},
                      "encoding": {"x": {"field": "diff", "type": "quantitative", "axis": null}, "y": {"field": "hi", "type": "quantitative", "axis": null}}
                    },
                    {
                      "transform": [{"filter": "datum.series === 'Within pairs'"}],
                      "mark": {"type": "point", "shape": "M-1,0H1M0,-1V1", "filled": false, "size": 14, "strokeWidth": 1.2, "opacity": 1},
                      "encoding": {
                        "x": {"field": "diff", "type": "quantitative", "axis": {"orient": "top", "title": "31/11", "labels": false, "values": [-10, -5, 0, 5, 10], "titlePadding": 8}},
                        "y": {"field": "mean", "type": "quantitative", "axis": {"orient": "right", "title": null, "labels": false, "values": [0, 2, 4, 6, 8, 10, 12, 14]}}
                      }
                    },
                    {
                      "transform": [{"filter": "datum.series === 'Between pairs'"}],
                      "mark": {"type": "point", "shape": "M-1,-1L1,1M-1,1L1,-1", "filled": false, "size": 14, "strokeWidth": 1.2, "opacity": 1},
                      "encoding": {
                        "x": {"field": "diff", "type": "quantitative", "axis": null},
                        "y": {"field": "mean", "type": "quantitative", "axis": null}
                      }
                    }
                  ],
                  "resolve": {"axis": {"x": "independent", "y": "independent"}}
                },
                {
                  "width": 133, "height": 131,
                  "data": {"name": "rms"},
                  "transform": [{"filter": "datum.pair === '11/21'"}],
                  "encoding": {
                    "color": {"field": "series", "type": "nominal", "scale": {"domain": ["Within pairs", "Between pairs"], "range": ["#000000", "#ee2a1e"]},
                      "legend": {"title": null, "orient": "none", "legendX": 27, "legendY": 5, "symbolType": "M-3,-0.6V0.6M-3,0H3M3,-0.6V0.6M0,-0.4V0.4", "symbolSize": 64, "symbolStrokeWidth": 1, "labelAlign": "right", "labelOffset": -20, "symbolOffset": 90, "labelFontSize": 9.5, "rowPadding": -7, "padding": 0}}
                  },
                  "layer": [
                    {
                      "mark": {"type": "rule", "strokeWidth": 1},
                      "encoding": {
                        "x": {"field": "diff", "type": "quantitative", "scale": {"domain": [-10.5, 10.5]}, "axis": {"title": "Reference pair diff (%)", "values": [-10, -5, 0, 5, 10]}},
                        "y": {"field": "lo", "type": "quantitative", "scale": {"domain": [0, 15]}, "axis": {"title": "RMS test set difference (%)", "values": [0, 2, 4, 6, 8, 10, 12, 14], "titlePadding": 7}},
                        "y2": {"field": "hi"}
                      }
                    },
                    {
                      "mark": {"type": "tick", "orient": "horizontal", "size": 4, "thickness": 1},
                      "encoding": {"x": {"field": "diff", "type": "quantitative", "axis": null}, "y": {"field": "lo", "type": "quantitative", "axis": null}}
                    },
                    {
                      "mark": {"type": "tick", "orient": "horizontal", "size": 4, "thickness": 1},
                      "encoding": {"x": {"field": "diff", "type": "quantitative", "axis": null}, "y": {"field": "hi", "type": "quantitative", "axis": null}}
                    },
                    {
                      "transform": [{"filter": "datum.series === 'Within pairs'"}],
                      "mark": {"type": "point", "shape": "M-1,0H1M0,-1V1", "filled": false, "size": 14, "strokeWidth": 1.2, "opacity": 1},
                      "encoding": {
                        "x": {"field": "diff", "type": "quantitative", "axis": {"orient": "top", "title": "11/21", "labels": false, "values": [-10, -5, 0, 5, 10], "titlePadding": 8}},
                        "y": {"field": "mean", "type": "quantitative", "axis": {"orient": "right", "title": null, "labels": false, "values": [0, 2, 4, 6, 8, 10, 12, 14]}}
                      }
                    },
                    {
                      "transform": [{"filter": "datum.series === 'Between pairs'"}],
                      "mark": {"type": "point", "shape": "M-1,-1L1,1M-1,1L1,-1", "filled": false, "size": 14, "strokeWidth": 1.2, "opacity": 1},
                      "encoding": {
                        "x": {"field": "diff", "type": "quantitative", "axis": null},
                        "y": {"field": "mean", "type": "quantitative", "axis": null}
                      }
                    }
                  ],
                  "resolve": {"axis": {"x": "independent", "y": "independent"}}
                }
              ],
              "spacing": 8,
              "resolve": {"scale": {"color": "independent"}, "legend": {"color": "independent"}}
            }
          ],
          "columns": 1,
          "align": "none",
          "spacing": 43.5,
          "resolve": {"scale": {"color": "independent"}, "legend": {"color": "independent"}}
        }
      ],
      "columns": 2,
      "align": "none",
      "spacing": 15,
      "resolve": {"scale": {"color": "independent"}, "legend": {"color": "independent"}}
    },
    {
      "width": 1200, "height": 266,
      "view": {"stroke": null},
      "data": {"name": "caption"},
      "encoding": {
        "y": {"field": "line", "type": "ordinal", "scale": {"type": "point", "padding": 0.5, "domain": [1, 2, 3, 4, 5, 6, 7, 8, 9, 10]}, "axis": null},
        "text": {"field": "text", "type": "nominal"}
      },
      "layer": [
        {
          "transform": [{"filter": "datum.part === 'head'"}],
          "mark": {"type": "text", "align": "left", "baseline": "middle", "dx": -53, "font": "Open Sans", "fontSize": 18.3, "fontWeight": "bold", "color": "#231f20"},
          "encoding": {"x": {"value": 0}}
        },
        {
          "transform": [{"filter": "datum.part === 'tail'"}],
          "mark": {"type": "text", "align": "right", "baseline": "middle", "font": "Open Sans", "fontSize": 18.3, "color": "#3a3a3a"},
          "encoding": {"x": {"value": "width"}}
        },
        {
          "transform": [{"filter": "datum.part === 'body'"}],
          "mark": {"type": "text", "align": "left", "baseline": "middle", "dx": -53, "font": "Open Sans", "fontSize": 18.3, "color": "#3a3a3a"},
          "encoding": {"x": {"value": 0}}
        }
      ]
    }
  ],
  "columns": 1,
  "align": "none",
  "spacing": 24,
  "resolve": {"scale": {"color": "independent"}, "legend": {"color": "independent"}},
  "config": {
    "font": "Liberation Sans",
    "view": {"stroke": "#000", "strokeWidth": 1},
    "axis": {"grid": false, "domain": false, "labelFont": "Liberation Sans", "titleFont": "Liberation Sans", "labelFontSize": 9, "titleFontSize": 9.5, "titleFontWeight": "normal", "labelColor": "#000", "titleColor": "#000", "tickColor": "#000", "tickSize": -4, "labelFlush": false},
    "axisX": {"labelPadding": 7, "titlePadding": 3},
    "axisY": {"labelPadding": 9},
    "legend": {"labelFont": "Liberation Sans", "labelColor": "#000"}
  }
}
